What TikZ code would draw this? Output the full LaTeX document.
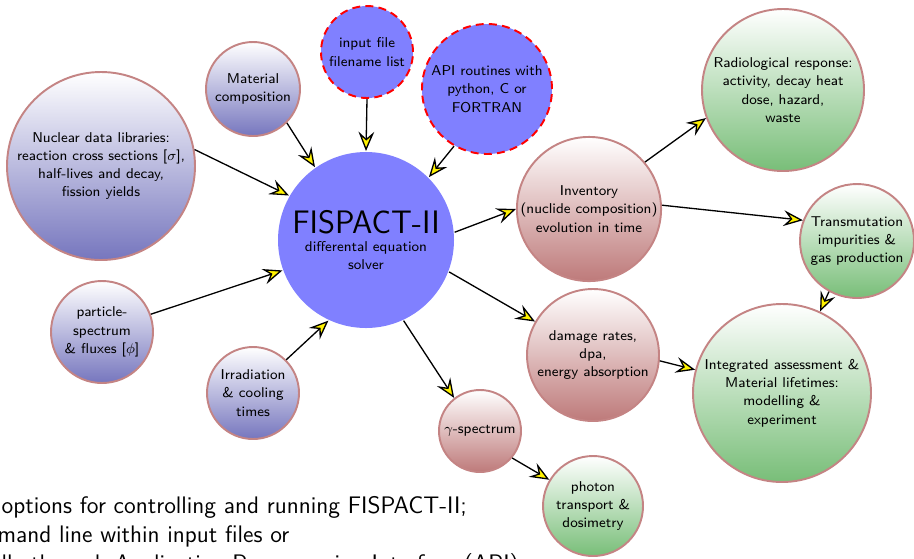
\documentclass[tikz,border=0pt]{standalone}
\usetikzlibrary{arrows.meta, positioning}
\usepackage{xcolor}
\definecolor{rim}{RGB}{196,132,132}
\definecolor{inbot}{RGB}{118,118,190}
\definecolor{outbot}{RGB}{190,122,122}
\definecolor{endbot}{RGB}{120,190,120}
\definecolor{fisblue}{RGB}{128,128,255}

\begin{document}
\begin{tikzpicture}[->,>={Stealth[length=11pt,width=9pt,inset=4pt,fill=yellow]},draw=black, line width=0.75pt]
    \tikzstyle{bubble}=[circle, draw=rim, line width=1.1pt, inner sep=0pt, align=center, font=\sffamily\fontsize{8.1}{10.4}\selectfont]
    \tikzstyle{input bubble}=[bubble, top color=white, bottom color=inbot]
    \tikzstyle{output bubble}=[bubble, top color=white, bottom color=outbot]
    \tikzstyle{end bubble}=[bubble, top color=white, bottom color=endbot]
    \tikzstyle{user bubble}=[bubble, fill=fisblue, draw=red, dashed, dash pattern=on 4.5pt off 3pt]
    \tikzstyle{slide text}=[anchor=base west, inner sep=0pt, font=\sffamily\fontsize{13.6}{16}\selectfont]

    \path[use as bounding box, clip, -] (0,0) rectangle (18.28,-11.16);

%    inputs
    \node[input bubble, minimum size=3.76cm] (nucl) at (2.02,-3.32) {Nuclear data libraries:\\reaction cross sections [$\sigma$],\\half-lives and decay,\\fission yields};
    \node[input bubble, minimum size=1.88cm] (mat) at (5.06,-1.78) {Material\\composition};
    \node[input bubble, minimum size=2.04cm] (part) at (2.04,-6.64) {particle-\\spectrum\\\& fluxes [$\phi$]};
    \node[input bubble, minimum size=1.84cm] (irr) at (5.06,-7.86) {Irradiation\\\& cooling\\times};
    \node[user bubble, minimum size=1.84cm] (inp) at (7.34,-1.04) {input file\\filename list};
    \node[user bubble, minimum size=2.60cm] (api) at (9.74,-1.78) {API routines with\\python, C or\\FORTRAN};

%    solver
    \node[bubble, draw=none, fill=fisblue, minimum size=3.52cm] (fis) at (7.32,-4.80) {{\fontsize{18.5}{21}\selectfont FISPACT-II}\\differental equation\\solver};

%    outputs
    \node[output bubble, minimum size=2.88cm] (inv) at (11.78,-4.18) {Inventory\\(nuclide composition)\\evolution in time};
    \node[output bubble, minimum size=2.64cm] (dam) at (11.86,-7.10) {damage rates,\\dpa,\\energy absorption};
    \node[output bubble, minimum size=1.64cm] (gam) at (9.60,-8.62) {$\gamma$-spectrum};
    \node[end bubble, minimum size=3.24cm] (rad) at (15.66,-1.80) {Radiological response:\\activity, decay heat\\dose, hazard,\\waste};
    \node[end bubble, minimum size=2.28cm] (tra) at (17.14,-4.82) {Transmutation\\impurities \&\\gas production};
    \node[end bubble, minimum size=3.56cm] (int) at (15.64,-7.86) {Integrated assessment \&\\Material lifetimes:\\modelling \&\\experiment};
    \node[end bubble, minimum size=2.00cm] (pho) at (11.86,-10.12) {photon\\transport \&\\dosimetry};

	\path (nucl.10) edge (fis.150);
	\path (mat.-45) edge (fis.125);
	\path (inp.south) edge (fis.north);
	\path (api.-120) edge (fis.45);
	\path (part.20) edge (fis.200);
	\path (irr.45) edge (fis.-115);

	\path (fis.5) edge (inv.180);
	\path (fis.-21) edge (dam.150);
	\path (fis.-65) edge (gam.128);
	\path (inv.40) edge (rad.200);
	\path (inv.3) edge (tra.159);
	\path (tra.-119) edge (int.65);
	\path (dam.-5) edge (int.165);
	\path (gam.-40) edge (pho.149);

%    slide text below
	\node[slide text] (l1) at (0.02,-10.26) {options for controlling and running FISPACT-II;};
	\node[slide text] (l2) at (-0.06,-10.84) {mand line within input files or};
	\node[slide text] (l3) at (0.02,-11.42) {lly through Application Programming Interface (API)};
\end{tikzpicture}
\end{document}
